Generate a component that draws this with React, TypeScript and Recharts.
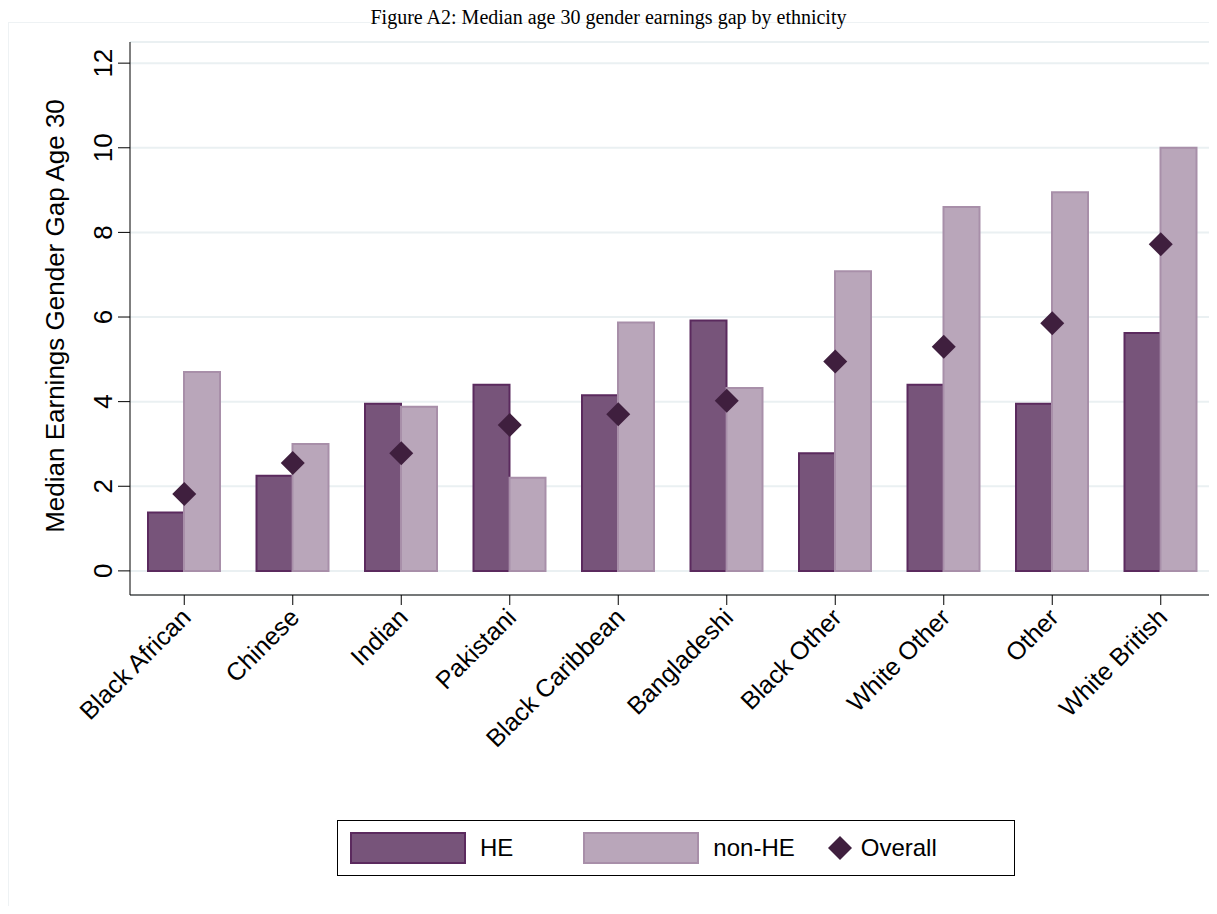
import React from "react";
import { ComposedChart, Bar, Scatter, XAxis, YAxis, CartesianGrid } from "recharts";

const groups = ["Black African", "Chinese", "Indian", "Pakistani", "Black Caribbean", "Bangladeshi", "Black Other", "White Other", "Other", "White British"];
const heGap = [1.38, 2.25, 3.95, 4.4, 4.15, 5.92, 2.78, 4.4, 3.95, 5.62];
const nonHeGap = [4.7, 3.0, 3.88, 2.2, 5.87, 4.32, 7.08, 8.6, 8.95, 10.0];
const overallGap = [1.82, 2.55, 2.78, 3.45, 3.7, 4.02, 4.95, 5.3, 5.85, 7.72];
const yTicks = [0, 2, 4, 6, 8, 10, 12];

const data = groups.map((g, i) => ({ g, he: heGap[i], non: nonHeGap[i], all: overallGap[i] }));

const FONT = "'Liberation Sans', Arial, sans-serif";

const Diamond = (p: any) => (
  <path d={`M${p.cx},${p.cy - 12}L${p.cx + 12},${p.cy}L${p.cx},${p.cy + 12}L${p.cx - 12},${p.cy}Z`} fill="#3f1f3e" />
);

const YTick = (p: any) => (
  <text x={p.x - 4} y={p.y} transform={`rotate(-90 ${p.x - 4} ${p.y})`} textAnchor="middle" fontFamily={FONT} fontSize={26} fill="#000">
    {p.payload.value}
  </text>
);

const XTick = (p: any) => (
  <text x={p.x + 8} y={p.y + 12} transform={`rotate(-45 ${p.x + 8} ${p.y + 12})`} textAnchor="end" fontFamily={FONT} fontSize={25} fill="#000">
    {p.payload.value}
  </text>
);

const YLabel = () => (
  <text x={64} y={316} transform="rotate(-90 64 316)" textAnchor="middle" fontFamily={FONT} fontSize={26} fill="#000">
    Median Earnings Gender Gap Age 30
  </text>
);

export default function App() {
  return (
    <div style={{ position: "relative", width: 1217, height: 914, margin: -8, background: "#fff", overflow: "hidden" }}>
      <div style={{ position: "absolute", left: 8, top: 22, right: 0, bottom: 0, border: "1px solid #eef2f4" }} />
      <ComposedChart width={1217} height={914} data={data} margin={{ top: 42, right: 2, left: 50, bottom: 0 }} barGap={0} barCategoryGap="17%" style={{ position: "absolute", top: 0, left: 0 }}>
        <CartesianGrid vertical={false} stroke="#eaf0f2" strokeWidth={2} />
        <XAxis dataKey="g" tick={<XTick />} tickSize={10} interval={0} stroke="#000" tickLine={{ stroke: "#000" }} height={319} />
        <YAxis domain={[-0.57, 12.5]} ticks={yTicks} tick={<YTick />} tickSize={12} width={80} stroke="#000" tickLine={{ stroke: "#000" }}
          label={<YLabel />} />
        <Bar dataKey="he" name="HE" fill="#77547a" stroke="#5b2a5e" strokeWidth={2} barSize={36} isAnimationActive={false} />
        <Bar dataKey="non" name="non-HE" fill="#b9a6ba" stroke="#a88fa9" strokeWidth={2} barSize={36} isAnimationActive={false} />
        <Scatter dataKey="all" name="Overall" shape={<Diamond />} isAnimationActive={false} />
      </ComposedChart>
      <div style={{ position: "absolute", top: 6, width: "100%", textAlign: "center", fontFamily: "'Liberation Serif', serif", fontSize: 20, lineHeight: "22px" }}>
        Figure A2: Median age 30 gender earnings gap by ethnicity
      </div>
      <div style={{ position: "absolute", left: 337, top: 820, width: 676, height: 54, border: "1px solid #000", display: "flex", alignItems: "center", fontFamily: FONT, fontSize: 24 }}>
        <span style={{ width: 116, height: 32, background: "#77547a", border: "2px solid #5b2a5e", marginLeft: 12, boxSizing: "border-box" }} />
        <span style={{ marginLeft: 14 }}>HE</span>
        <span style={{ width: 116, height: 32, background: "#b9a6ba", border: "2px solid #a88fa9", marginLeft: 70, boxSizing: "border-box" }} />
        <span style={{ marginLeft: 14 }}>non-HE</span>
        <svg width={26} height={26} style={{ marginLeft: 32 }}><path d="M13,1L25,13L13,25L1,13Z" fill="#3f1f3e" /></svg>
        <span style={{ marginLeft: 8 }}>Overall</span>
      </div>
    </div>
  );
}
